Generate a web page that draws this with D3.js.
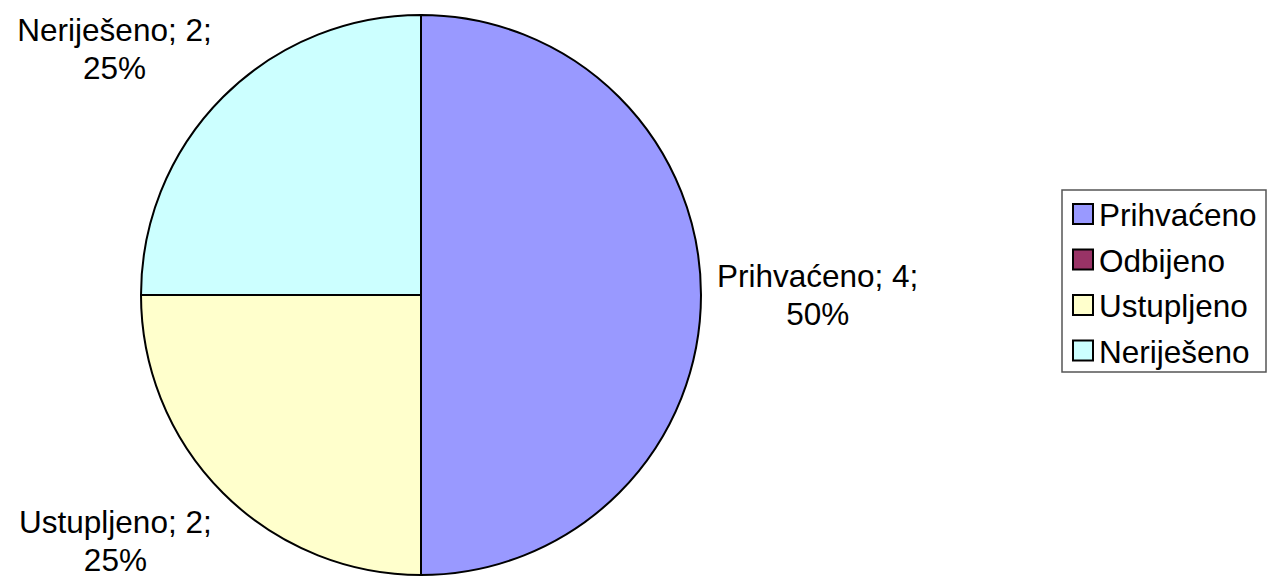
<!DOCTYPE html>
<html>
<head>
<meta charset="utf-8">
<script src="https://cdn.jsdelivr.net/npm/d3@7"></script>
<style>
  html, body { margin: 0; padding: 0; background: #fff; }
  svg text { font-family: "Liberation Sans", Arial, sans-serif; fill: #000; }
</style>
</head>
<body>
<svg id="chart" width="1271" height="582"></svg>
<script>
// data
var categories = ["Prihvaćeno", "Odbijeno", "Ustupljeno", "Neriješeno"];
var values = [4, 0, 2, 2];
var colors = ["#9999ff", "#993366", "#ffffcc", "#ccffff"];

var svg = d3.select("#chart"),
    cx = 421, cy = 295, radius = 280,
    fontSize = 31.5, lineH = 38;

var total = d3.sum(values);
var data = categories.map(function (c, i) {
    return { name: c, value: values[i], color: colors[i] };
});

var pie = d3.pie().sort(null).value(function (d) { return d.value; });
var arc = d3.arc().innerRadius(0).outerRadius(radius);

var g = svg.append("g")
    .attr("transform", "translate(" + cx + "," + cy + ")");

var arcs = pie(data);

g.selectAll("path.slice")
    .data(arcs)
    .enter()
    .append("path")
    .attr("class", "slice")
    .attr("d", arc)
    .attr("fill", function (d) { return d.data.color; })
    .attr("stroke", "#000")
    .attr("stroke-width", 2)
    .attr("stroke-linejoin", "round");

// labels outside the pie
var labelR = radius + 16;
arcs.forEach(function (d) {
    if (d.data.value === 0) return;
    var a = (d.startAngle + d.endAngle) / 2;
    var px = Math.sin(a) * labelR,
        py = -Math.cos(a) * labelR;
    var lg = g.append("g");
    var lines = [d.data.name + "; " + d.data.value + ";",
                 Math.round(d.data.value / total * 100) + "%"];
    lines.forEach(function (t, i) {
        lg.append("text")
            .attr("x", 0)
            .attr("y", i * lineH)
            .attr("text-anchor", "middle")
            .style("font-size", fontSize + "px")
            .text(t);
    });
    var bb = lg.node().getBBox();
    var s = Math.sin(a), c = Math.cos(a);
    var tx, ty;
    if (s > 0.3) tx = px - bb.x;
    else if (s < -0.3) tx = px - (bb.x + bb.width);
    else tx = px - (bb.x + bb.width / 2);
    if (c > 0.3) ty = py - (bb.y + bb.height);
    else if (c < -0.3) ty = py - bb.y;
    else ty = py - (bb.y + bb.height / 2);
    lg.attr("transform", "translate(" + tx + "," + ty + ")");
});

// legend
var legend = svg.append("g").attr("transform", "translate(1062,190)");
legend.append("rect")
    .attr("width", 204)
    .attr("height", 182)
    .attr("fill", "#fff")
    .attr("stroke", "#555")
    .attr("stroke-width", 1.5);

var item = legend.selectAll("g.item")
    .data(data)
    .enter()
    .append("g")
    .attr("class", "item")
    .attr("transform", function (d, i) { return "translate(0," + (25 + i * 45.5) + ")"; });

item.append("rect")
    .attr("x", 11)
    .attr("y", -11)
    .attr("width", 20)
    .attr("height", 20)
    .attr("fill", function (d) { return d.color; })
    .attr("stroke", "#000")
    .attr("stroke-width", 2);

item.append("text")
    .attr("x", 37)
    .attr("y", 11)
    .style("font-size", fontSize + "px")
    .text(function (d) { return d.name; });
</script>
</body>
</html>
